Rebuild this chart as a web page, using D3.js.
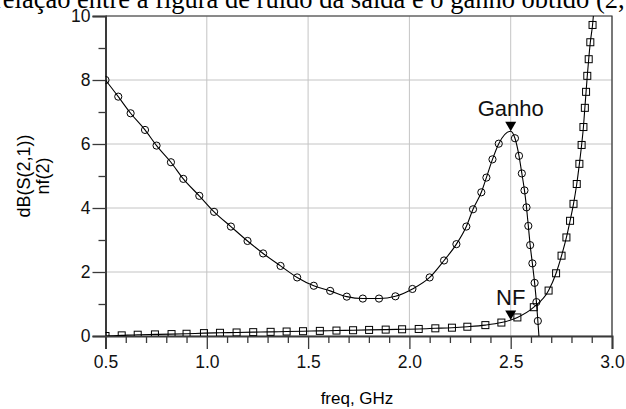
<!DOCTYPE html>
<html>
<head>
<meta charset="utf-8">
<script src="https://cdn.jsdelivr.net/npm/d3@7"></script>
<style>
  body { margin: 0; background: #fff; }
  svg { display: block; }
</style>
</head>
<body>
<svg width="626" height="409"></svg>
<script>
// Ganho trace, dB(S(2,1))
const freqGanho = [0.500, 0.563, 0.624, 0.695, 0.752, 0.823, 0.884, 0.963, 1.036, 1.119,
  1.201, 1.278, 1.364, 1.446, 1.528, 1.609, 1.691, 1.770, 1.850, 1.931,
  2.015, 2.100, 2.171, 2.232, 2.281, 2.314, 2.355, 2.380, 2.410, 2.441,
  2.500, 2.521, 2.541, 2.555, 2.568, 2.578, 2.587, 2.596, 2.607, 2.618,
  2.627, 2.634, 2.645];
const ganho = [8.00, 7.48, 6.96, 6.44, 5.95, 5.43, 4.91, 4.38, 3.88, 3.42,
  2.97, 2.58, 2.19, 1.83, 1.57, 1.41, 1.23, 1.17, 1.17, 1.24,
  1.47, 1.83, 2.36, 2.87, 3.42, 3.96, 4.49, 4.95, 5.52, 6.01,
  6.40, 6.18, 5.63, 5.08, 4.55, 4.02, 3.44, 2.84, 2.27, 1.66,
  1.06, 0.47, -0.50];

// NF trace, nf(2)
const freqNF = [0.500, 0.580, 0.659, 0.744, 0.826, 0.900, 0.986, 1.065, 1.147, 1.229,
  1.315, 1.394, 1.475, 1.558, 1.640, 1.722, 1.801, 1.883, 1.964, 2.046,
  2.128, 2.210, 2.286, 2.375, 2.454, 2.500, 2.533, 2.614, 2.687, 2.724,
  2.751, 2.775, 2.793, 2.810, 2.826, 2.839, 2.850, 2.859, 2.866, 2.872,
  2.878, 2.885, 2.893, 2.904, 2.912];
const nf = [0.00, 0.02, 0.04, 0.05, 0.06, 0.07, 0.09, 0.10, 0.11, 0.12,
  0.13, 0.14, 0.15, 0.16, 0.17, 0.18, 0.19, 0.20, 0.21, 0.22,
  0.24, 0.26, 0.29, 0.34, 0.42, 0.50, 0.58, 0.90, 1.42, 1.96,
  2.51, 3.08, 3.60, 4.13, 4.75, 5.38, 5.97, 6.53, 7.13, 7.63,
  8.13, 8.65, 9.18, 9.72, 10.30];

// markers placed on the traces
const markerGanho = { freq: 2.5, label: "Ganho" };
const markerNF = { freq: 2.5, label: "NF" };

// ticks
const xMajor = [0.5, 1.0, 1.5, 2.0, 2.5, 3.0];
const xMinor = [0.6, 0.7, 0.8, 0.9, 1.1, 1.2, 1.3, 1.4, 1.6, 1.7, 1.8, 1.9,
  2.1, 2.2, 2.3, 2.4, 2.6, 2.7, 2.8, 2.9];
const yMajor = [0, 2, 4, 6, 8, 10];
const yMinor = [1, 3, 5, 7, 9];

const titleText = "relação entre a figura de ruído da saída e o ganho obtido (2,";
const xLabel = "freq, GHz";
const yLabels = ["dB(S(2,1))", "nf(2)"];

const svg = d3.select("svg");
const mLeft = 105.5, mRight = 612, mTop = 16, mBottom = 336;

const x = d3.scaleLinear().domain([0.5, 3.0]).range([mLeft, mRight]);
const y = d3.scaleLinear().domain([0, 10]).range([mBottom, mTop]);

// text above the chart (cut off in the original)
svg.append("text")
  .attr("x", -6).attr("y", 7.5)
  .style("font-family", "'Liberation Serif', 'Times New Roman', serif")
  .style("font-size", "26.5px")
  .attr("fill", "#000")
  .text(titleText);

// grid
svg.append("g").selectAll("line")
  .data(xMajor).enter().append("line")
  .attr("x1", d => x(d)).attr("x2", d => x(d))
  .attr("y1", mTop).attr("y2", mBottom)
  .attr("stroke", "#c4c4c4").attr("stroke-width", 1);
svg.append("g").selectAll("line")
  .data(yMajor).enter().append("line")
  .attr("x1", mLeft).attr("x2", mRight)
  .attr("y1", d => y(d)).attr("y2", d => y(d))
  .attr("stroke", "#c4c4c4").attr("stroke-width", 1);

// border top / right
svg.append("path")
  .attr("d", `M${mLeft},${mTop}H${mRight}V${mBottom}`)
  .attr("fill", "none").attr("stroke", "#333").attr("stroke-width", 1.2);

const font = "'Liberation Sans', Arial, sans-serif";

// axes
svg.append("g").attr("transform", `translate(0,${mBottom})`)
  .call(d3.axisBottom(x).tickValues(xMajor).tickFormat(d3.format(".1f"))
    .tickSize(13).tickPadding(7));
svg.append("g").attr("transform", `translate(0,${mBottom})`)
  .call(d3.axisBottom(x).tickValues(xMinor).tickFormat("").tickSize(7))
  .select(".domain").remove();
svg.append("g").attr("transform", `translate(${mLeft},0)`)
  .call(d3.axisLeft(y).tickValues(yMajor).tickSize(13).tickPadding(2));
svg.append("g").attr("transform", `translate(${mLeft},0)`)
  .call(d3.axisLeft(y).tickValues(yMinor).tickFormat("").tickSize(7))
  .select(".domain").remove();

svg.selectAll(".domain").attr("stroke", "#3a3a3a").attr("stroke-width", 2);
svg.selectAll(".tick line").attr("stroke", "#3a3a3a").attr("stroke-width", 1.3);
svg.selectAll(".tick text")
  .style("font-family", font).style("font-size", "17.5px").attr("fill", "#111");

// axis titles
svg.append("text")
  .attr("x", 357).attr("y", 404)
  .attr("text-anchor", "middle")
  .style("font-family", font).style("font-size", "17px")
  .text(xLabel);
svg.append("g").selectAll("text")
  .data(yLabels).enter().append("text")
  .attr("transform", (d, i) => `translate(${30 + i * 18.5},${(mTop + mBottom) / 2}) rotate(-90)`)
  .attr("text-anchor", "middle")
  .style("font-family", font).style("font-size", "18px")
  .text(d => d);

// traces
svg.append("clipPath").attr("id", "plot")
  .append("rect").attr("x", mLeft).attr("y", mTop)
  .attr("width", mRight - mLeft).attr("height", mBottom - mTop);
const plot = svg.append("g").attr("clip-path", "url(#plot)");

const ganhoData = freqGanho.map((f, i) => ({ f: f, v: ganho[i] }));
const nfData = freqNF.map((f, i) => ({ f: f, v: nf[i] }));

const line = d3.line().x(d => x(d.f)).y(d => y(d.v)).curve(d3.curveMonotoneX);

plot.append("path").datum(ganhoData)
  .attr("d", line).attr("fill", "none").attr("stroke", "#000").attr("stroke-width", 1.1);
plot.append("path").datum(nfData)
  .attr("d", line).attr("fill", "none").attr("stroke", "#000").attr("stroke-width", 1.1);

// symbols (the marker point itself carries the triangle instead)
plot.append("g").selectAll("circle")
  .data(ganhoData.filter(d => d.f !== markerGanho.freq)).enter().append("circle")
  .attr("cx", d => x(d.f)).attr("cy", d => y(d.v)).attr("r", 3.6)
  .attr("fill", "none").attr("stroke", "#000").attr("stroke-width", 1);
plot.append("g").selectAll("rect")
  .data(nfData.filter(d => d.f !== markerNF.freq)).enter().append("rect")
  .attr("x", d => x(d.f) - 3.5).attr("y", d => y(d.v) - 3.5)
  .attr("width", 7).attr("height", 7)
  .attr("fill", "none").attr("stroke", "#000").attr("stroke-width", 1);

// trace markers
function addMarker(m, data) {
  const p = data.find(d => d.f === m.freq);
  const g = svg.append("g").attr("transform", `translate(${x(p.f)},${y(p.v)})`);
  g.append("path").attr("d", "M-5.5,-9.5L5.5,-9.5L0,0Z").attr("fill", "#000");
  g.append("text").attr("y", -15).attr("text-anchor", "middle")
    .style("font-family", font).style("font-size", "22px").attr("fill", "#111")
    .text(m.label);
}
addMarker(markerGanho, ganhoData);
addMarker(markerNF, nfData);
</script>
</body>
</html>
